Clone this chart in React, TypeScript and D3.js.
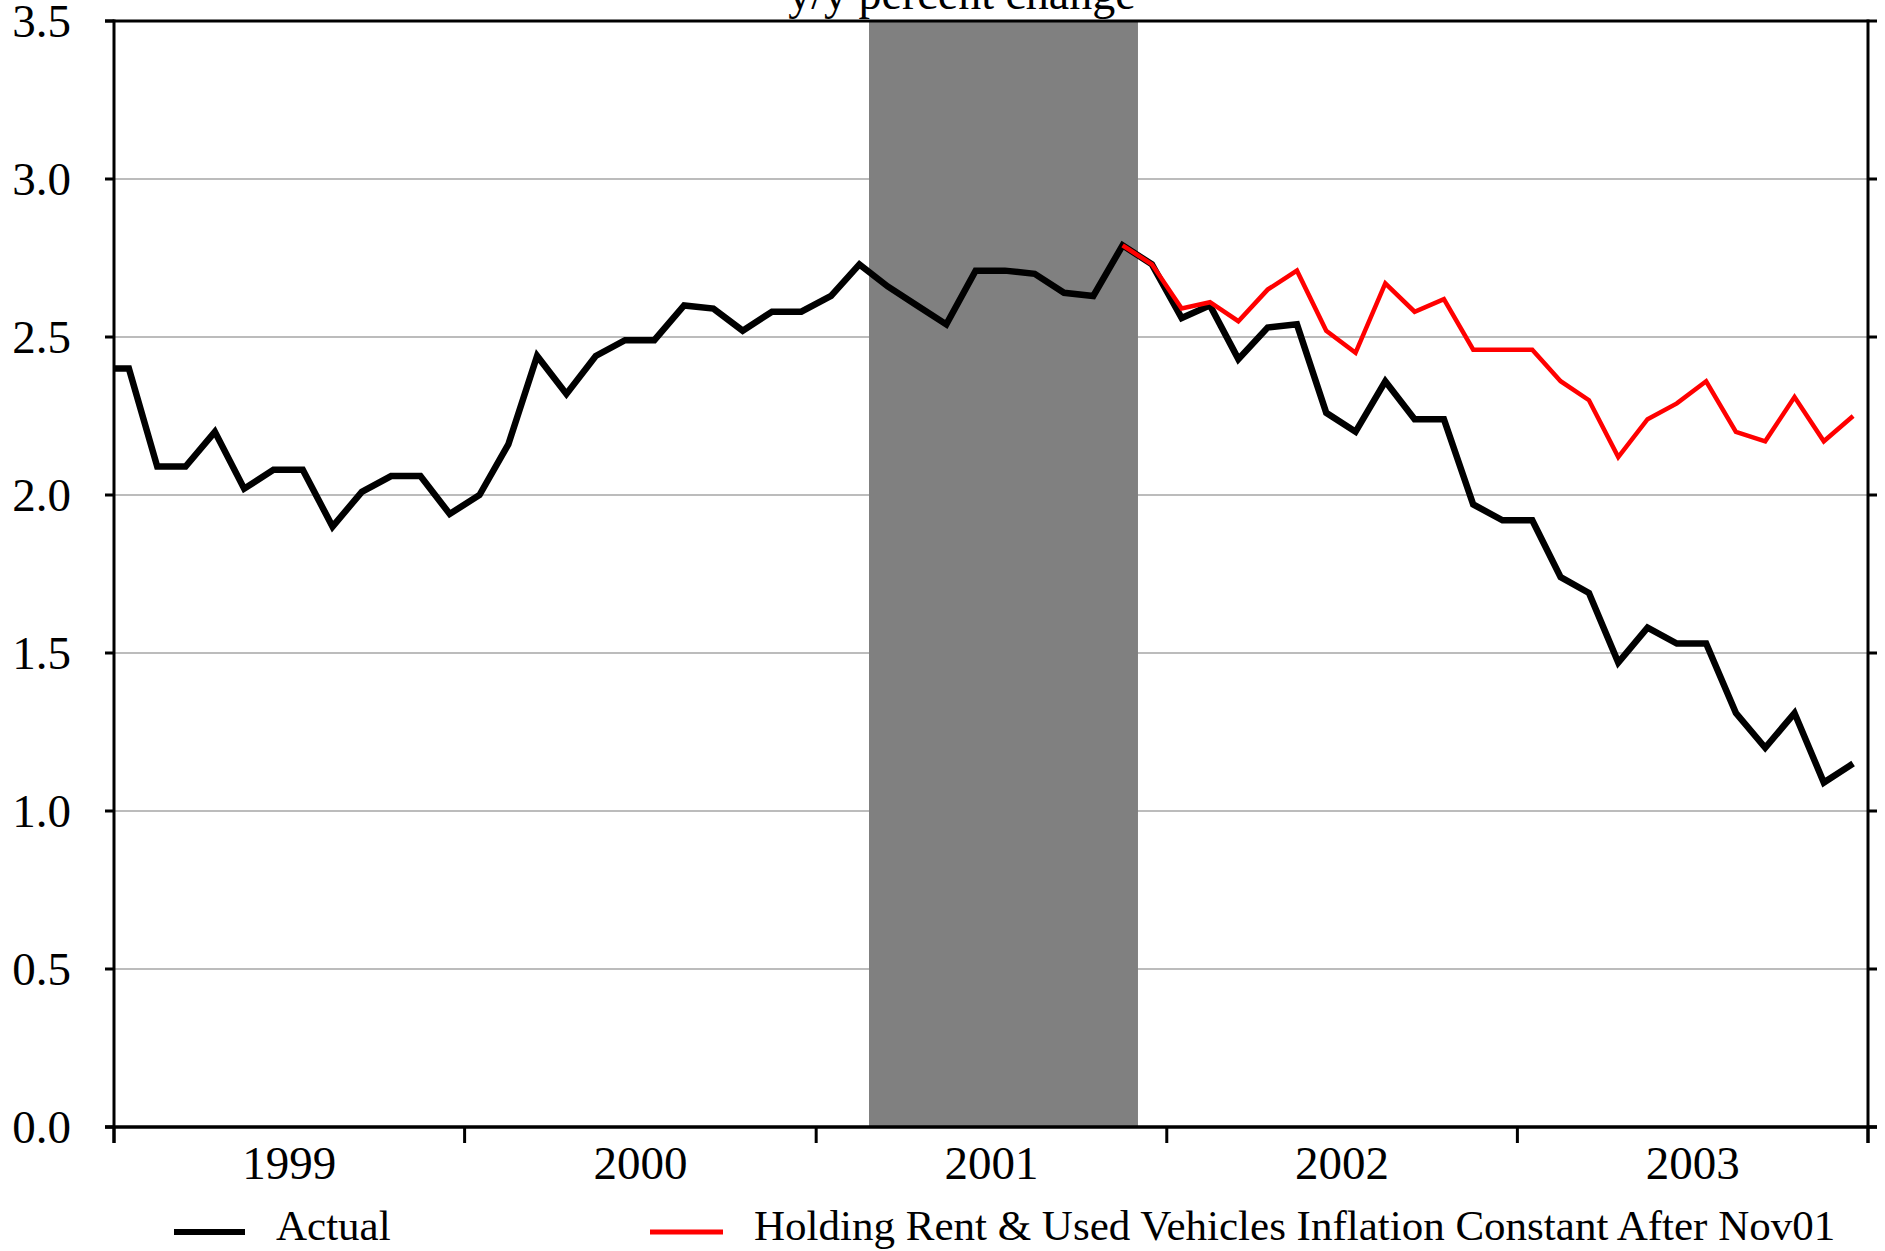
import React from "react";
import * as d3 from "d3";

// monthly y/y % change, Dec 1998 .. Dec 2003
const actualStart = [1998, 11];
const actual = [
  2.40,
  2.40, 2.09, 2.09, 2.20, 2.02, 2.08, 2.08, 1.90, 2.01, 2.06, 2.06, 1.94,
  2.00, 2.16, 2.44, 2.32, 2.44, 2.49, 2.49, 2.60, 2.59, 2.52, 2.58, 2.58,
  2.63, 2.73, 2.66, 2.60, 2.54, 2.71, 2.71, 2.70, 2.64, 2.63, 2.79, 2.73,
  2.56, 2.60, 2.43, 2.53, 2.54, 2.26, 2.20, 2.36, 2.24, 2.24, 1.97, 1.92,
  1.92, 1.74, 1.69, 1.47, 1.58, 1.53, 1.53, 1.31, 1.20, 1.31, 1.09, 1.15,
];

// Nov 2001 .. Dec 2003
const holdingStart = [2001, 10];
const holding = [
  2.79, 2.73,
  2.59, 2.61, 2.55, 2.65, 2.71, 2.52, 2.45, 2.67, 2.58, 2.62, 2.46, 2.46,
  2.46, 2.36, 2.30, 2.12, 2.24, 2.29, 2.36, 2.20, 2.17, 2.31, 2.17, 2.25,
];

const years = [1999, 2000, 2001, 2002, 2003];
const yTicks = [0, 0.5, 1, 1.5, 2, 2.5, 3, 3.5];
const recession = [new Date(2001, 1, 25), new Date(2001, 11, 2)];
const title = "y/y percent change";
const seriesNames = ["Actual", "Holding Rent & Used Vehicles Inflation Constant After Nov01"];

const W = 1885, H = 1251;
const left = 114, right = 1868, top = 21, bottom = 1127;
const font = "'Liberation Serif', 'Times New Roman', serif";

// middle of a month, so points sit between the month boundaries
const midMonth = (y: number, m: number) => {
  const a = new Date(y, m, 1).getTime();
  const b = new Date(y, m + 1, 1).getTime();
  return new Date((a + b) / 2);
};

const toPoints = (start: number[], vals: number[]) =>
  vals.map((v, i) => ({ date: midMonth(start[0], start[1] + i), value: v }));

export default function App() {
  const x = d3
    .scaleTime()
    .domain([new Date(years[0], 0, 1), new Date(years[years.length - 1] + 1, 0, 1)])
    .range([left, right]);
  const y = d3.scaleLinear().domain([0, 3.5]).range([bottom, top]);

  const line = d3
    .line<{ date: Date; value: number }>()
    .x((d) => x(d.date))
    .y((d) => y(d.value));

  const actualPts = toPoints(actualStart, actual);
  const holdingPts = toPoints(holdingStart, holding);

  const yearEdges = d3.range(years[0], years[years.length - 1] + 2).map((yr) => x(new Date(yr, 0, 1)));

  return (
    <svg
      width={W}
      height={H}
      style={{ position: "absolute", left: 0, top: 0, background: "#fff" }}
      fontFamily={font}
    >
      <defs>
        <clipPath id="plot">
          <rect x={left} y={top} width={right - left} height={bottom - top} />
        </clipPath>
      </defs>

      <text x={962} y={9} fontSize={46} textAnchor="middle">
        {title}
      </text>

      {/* grid */}
      {yTicks.slice(1, -1).map((t) => (
        <line key={t} x1={left} x2={right} y1={y(t)} y2={y(t)} stroke="#a6a6a6" strokeWidth={1.5} />
      ))}

      {/* recession band */}
      <rect
        x={x(recession[0])}
        y={top}
        width={x(recession[1]) - x(recession[0])}
        height={bottom - top}
        fill="#808080"
      />

      <g clipPath="url(#plot)">
        <path d={line(actualPts) || ""} fill="none" stroke="#000" strokeWidth={6.5} strokeLinejoin="miter" />
        <path d={line(holdingPts) || ""} fill="none" stroke="#ff0000" strokeWidth={4.5} strokeLinejoin="miter" />
      </g>

      {/* frame */}
      <line x1={left - 9} x2={right} y1={top} y2={top} stroke="#000" strokeWidth={3} />
      <line x1={left} x2={left} y1={top - 1.5} y2={bottom + 16} stroke="#000" strokeWidth={3} />
      <line x1={right} x2={right} y1={top - 1.5} y2={bottom + 16} stroke="#000" strokeWidth={3} />
      <line x1={left - 9} x2={right + 9} y1={bottom} y2={bottom} stroke="#000" strokeWidth={3.5} />

      {yTicks.map((t) => (
        <g key={t}>
          <line x1={left - 9} x2={left} y1={y(t)} y2={y(t)} stroke="#000" strokeWidth={3} />
          <line x1={right} x2={right + 9} y1={y(t)} y2={y(t)} stroke="#000" strokeWidth={3} />
          <text x={71} y={y(t)} dy="0.35em" fontSize={47} textAnchor="end">
            {t.toFixed(1)}
          </text>
        </g>
      ))}

      {yearEdges.map((xe, i) => (
        <line key={i} x1={xe} x2={xe} y1={bottom} y2={bottom + 16} stroke="#000" strokeWidth={3} />
      ))}
      {years.map((yr) => (
        <text
          key={yr}
          x={(x(new Date(yr, 0, 1)) + x(new Date(yr + 1, 0, 1))) / 2}
          y={1179}
          fontSize={47}
          textAnchor="middle"
        >
          {yr}
        </text>
      ))}

      {/* legend */}
      <line x1={174} x2={245} y1={1232} y2={1232} stroke="#000" strokeWidth={6} />
      <text x={276} y={1240} fontSize={43}>
        {seriesNames[0]}
      </text>
      <line x1={650} x2={723} y1={1232} y2={1232} stroke="#ff0000" strokeWidth={5} />
      <text x={754} y={1240} fontSize={43}>
        {seriesNames[1]}
      </text>
    </svg>
  );
}
